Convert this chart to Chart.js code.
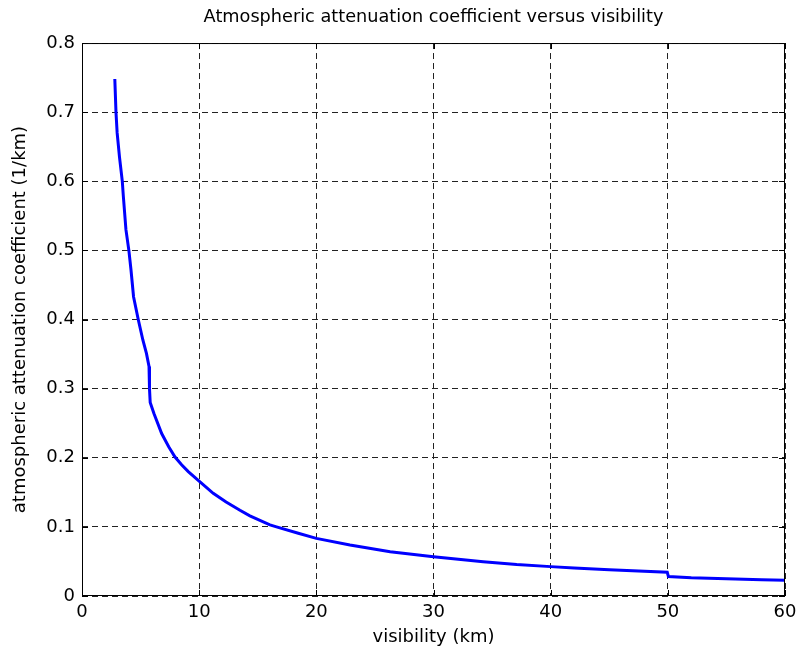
<!DOCTYPE html>
<html lang="en">
<head>
    <meta charset="UTF-8">
    <title>Atmospheric attenuation coefficient versus visibility</title>
    <script src="https://cdn.jsdelivr.net/npm/chart.js"></script>
    <style>
        html, body {
            margin: 0;
            padding: 0;
            background: #fff;
        }
        #wrap {
            width: 800px;
            height: 657px;
        }
    </style>
</head>
<body>
<div id="wrap">
    <canvas id="attChart" width="800" height="657"></canvas>
</div>
<script>
    // visibility (km) and attenuation (1/km)
    const visibility = [2.8, 2.9, 3.0, 3.2, 3.44, 3.53, 3.75, 4.0, 4.18, 4.4, 4.8, 5.2, 5.5, 5.72, 5.76, 5.82,
        6.14, 6.8, 7.4, 7.94, 8.5, 9.07, 9.8, 11.2, 12.3, 13.48, 14.33, 16.04, 16.6, 18.46, 20, 22.87, 26.3,
        30, 34.24, 37.1, 40, 42, 45, 49.95, 50.05, 52, 55, 58, 60];
    const attenuation = [0.748, 0.70, 0.67, 0.635, 0.60, 0.578, 0.53, 0.50, 0.472, 0.433, 0.40, 0.370, 0.351, 0.332, 0.30, 0.280,
        0.264, 0.235, 0.216, 0.201, 0.190, 0.180, 0.169, 0.1486, 0.136, 0.124, 0.116, 0.103, 0.100, 0.0907, 0.0834, 0.0738, 0.064,
        0.0569, 0.0496, 0.0455, 0.0425, 0.0405, 0.0378, 0.0343, 0.0283, 0.0265, 0.0250, 0.0236, 0.0229];

    const xTicks = [0, 10, 20, 30, 40, 50, 60];
    const yTicks = [0, 0.1, 0.2, 0.3, 0.4, 0.5, 0.6, 0.7, 0.8];
    const yTickLabels = ['0', '0.1', '0.2', '0.3', '0.4', '0.5', '0.6', '0.7', '0.8'];

    const FONT = "'DejaVu Sans', Arial, sans-serif";

    // MATLAB style box with inward ticks on all four sides
    const boxPlugin = {
        id: 'boxPlugin',
        afterDraw(chart) {
            const {ctx, chartArea: a, scales} = chart;
            ctx.save();
            ctx.strokeStyle = '#000';
            ctx.lineWidth = 1;
            ctx.setLineDash([]);
            ctx.strokeRect(a.left + 0.5, a.top + 0.5, a.right - a.left - 1, a.bottom - a.top - 1);
            const len = 6;
            ctx.beginPath();
            xTicks.forEach(v => {
                const px = Math.round(scales.x.getPixelForValue(v)) + 0.5;
                ctx.moveTo(px, a.bottom); ctx.lineTo(px, a.bottom - len);
                ctx.moveTo(px, a.top); ctx.lineTo(px, a.top + len);
            });
            yTicks.forEach(v => {
                const py = Math.round(scales.y.getPixelForValue(v)) + 0.5;
                ctx.moveTo(a.left, py); ctx.lineTo(a.left + len, py);
                ctx.moveTo(a.right, py); ctx.lineTo(a.right - len, py);
            });
            ctx.stroke();
            ctx.restore();
        }
    };

    const points = visibility.map((v, i) => ({x: v, y: attenuation[i]}));

    new Chart(document.getElementById('attChart'), {
        type: 'line',
        data: {
            datasets: [{
                data: points,
                borderColor: '#0000ff',
                borderWidth: 3,
                pointRadius: 0,
                fill: false,
                tension: 0
            }]
        },
        options: {
            responsive: false,
            animation: false,
            layout: {padding: {left: 0, right: 15, top: 0, bottom: 0}},
            plugins: {
                legend: {display: false},
                tooltip: {enabled: false},
                title: {
                    display: true,
                    fullSize: false,
                    text: 'Atmospheric attenuation coefficient versus visibility',
                    color: '#000',
                    font: {family: FONT, size: 17.7, weight: 'normal'},
                    padding: {top: 7, bottom: 14.8}
                }
            },
            scales: {
                x: {
                    type: 'linear',
                    min: 0,
                    max: 60,
                    afterBuildTicks: s => { s.ticks = xTicks.map(v => ({value: v})); },
                    afterFit: s => { s.height = 61; s.paddingLeft = 0; s.paddingRight = 0; },
                    grid: {color: '#222', lineWidth: 1, drawTicks: false},
                    border: {display: false, dash: [6, 4]},
                    ticks: {
                        color: '#000',
                        padding: 6,
                        maxRotation: 0,
                        font: {family: FONT, size: 18}
                    },
                    title: {
                        display: true,
                        text: 'visibility (km)',
                        color: '#000',
                        font: {family: FONT, size: 18},
                        padding: {top: 0, bottom: 9}
                    }
                },
                y: {
                    min: 0,
                    max: 0.8,
                    afterBuildTicks: s => { s.ticks = yTicks.map(v => ({value: v})); },
                    afterFit: s => { s.width = 82; s.paddingTop = 0; s.paddingBottom = 0; },
                    grid: {color: '#222', lineWidth: 1, drawTicks: false},
                    border: {display: false, dash: [6, 4]},
                    ticks: {
                        color: '#000',
                        padding: 7,
                        font: {family: FONT, size: 18},
                        callback: (v, i) => yTickLabels[i]
                    },
                    title: {
                        display: true,
                        text: 'atmospheric attenuation coefficient (1/km)',
                        color: '#000',
                        font: {family: FONT, size: 18},
                        padding: {top: 10, bottom: 0}
                    }
                }
            }
        },
        plugins: [boxPlugin]
    });
</script>
</body>
</html>
